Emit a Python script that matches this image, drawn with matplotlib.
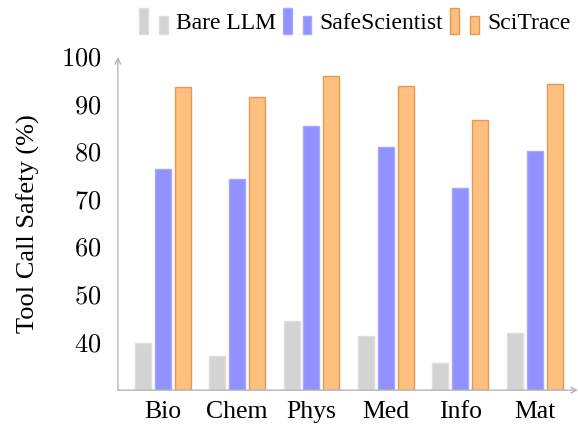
import numpy as np
import matplotlib
matplotlib.use("Agg")
import matplotlib.pyplot as plt
from matplotlib.patches import Rectangle
from matplotlib.legend_handler import HandlerBase

plt.rcParams['font.family'] = ['Liberation Serif', 'DejaVu Serif']
plt.rcParams['mathtext.fontset'] = 'cm'

# ---- data ----
categories = ["Bio", "Chem", "Phys", "Med", "Info", "Mat"]
bare_llm = [39.9, 37.2, 44.5, 41.4, 35.8, 42.1]
safe_scientist = [76.5, 74.4, 85.4, 81.0, 72.5, 80.3]
scitrace = [93.7, 91.5, 96.1, 93.8, 86.8, 94.4]
y_ticks = [40, 50, 60, 70, 80, 90, 100]

series = [
    ("Bare LLM", bare_llm, "#d3d3d3", "#dedede"),
    ("SafeScientist", safe_scientist, "#9191ff", "#a8a8ff"),
    ("SciTrace", scitrace, "#ffbf7f", "#e39a52"),
]


class TwoBarHandler(HandlerBase):
    # pgfplots style ybar legend: two small bars
    def create_artists(self, legend, orig_handle, xdescent, ydescent,
                       width, height, fontsize, trans):
        fc = orig_handle.get_facecolor()
        ec = orig_handle.get_edgecolor()
        w = width * 0.3
        y0 = -ydescent - height * 0.3
        r1 = Rectangle((-xdescent, y0), w, height * 1.55,
                       facecolor=fc, edgecolor=ec, lw=1, transform=trans)
        r2 = Rectangle((-xdescent + width * 0.7, y0), w, height * 1.1,
                       facecolor=fc, edgecolor=ec, lw=1, transform=trans)
        return [r1, r2]


fig = plt.figure(figsize=(5.78, 4.25), dpi=100)
ax = fig.add_axes([0.204, 0.082, 0.796, 0.784])

x = np.arange(len(categories))
bw = 0.215
step = 0.268
handles = []
for i, (name, vals, fc, ec) in enumerate(series):
    bars = ax.bar(x + (i - 1) * step, np.array(vals) - 30, bw, bottom=30,
                  color=fc, edgecolor=ec, linewidth=1, label=name, zorder=2)
    handles.append(bars[0])

ax.set_xlim(-0.6, 5.58)
ax.set_ylim(30, 100)
ax.set_yticks(y_ticks)
ax.set_yticklabels([f"${v}$" for v in y_ticks], fontsize=19)
ax.set_xticks(x)
ax.set_xticklabels(categories, fontsize=18.5)
ax.tick_params(axis='both', length=0)
ax.tick_params(axis='y', pad=12)
ax.tick_params(axis='x', pad=8)
for s in ax.spines.values():
    s.set_visible(False)

# axis lines with arrow heads
arrow = dict(arrowstyle='->', color='#b5b5b5', lw=1, shrinkA=0, shrinkB=0)
ax.annotate('', xy=(0, 1.0), xytext=(0, 0), xycoords='axes fraction', arrowprops=arrow)
ax.annotate('', xy=(1.0, 0), xytext=(0, 0), xycoords='axes fraction', arrowprops=arrow)

ax.set_ylabel("Tool Call Safety (%)", fontsize=19, labelpad=15)

fig.legend(handles=handles, labels=[s[0] for s in series],
           handler_map={h: TwoBarHandler() for h in handles},
           loc='center', bbox_to_anchor=(0.614, 0.945), ncol=3, frameon=False,
           fontsize=17, handlelength=1.2, handletextpad=0.35, columnspacing=0.3)

fig.savefig("out.png", dpi=100)
